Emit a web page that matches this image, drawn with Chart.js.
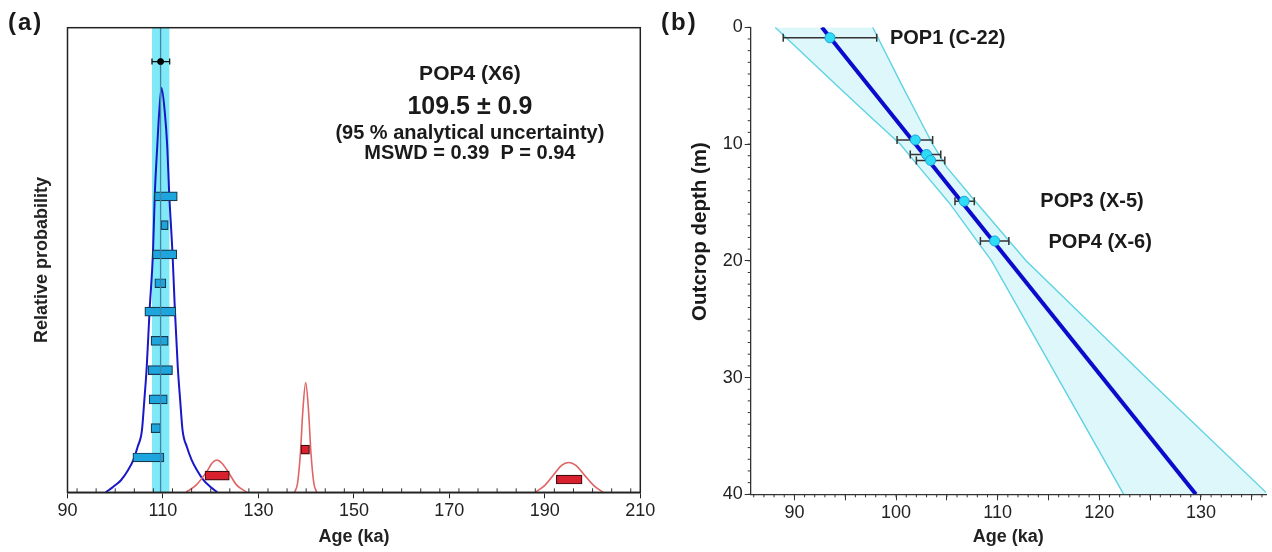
<!DOCTYPE html>
<html>
<head>
<meta charset="utf-8">
<script src="https://cdn.jsdelivr.net/npm/chart.js@4.4.1/dist/chart.umd.min.js"></script>
<style>
  body { margin: 0; background: #fff; }
  #wrap { position: relative; width: 1272px; height: 552px; overflow: hidden; }
  .panel { position: absolute; top: 0; height: 552px; }
  #pa { left: 0; width: 660px; }
  #pb { left: 660px; width: 612px; }
  .tag { position: absolute; font: bold 24px "Liberation Sans", Arial, sans-serif; letter-spacing: 2px; color: #1a1a1a; }
</style>
</head>
<body>
<div id="wrap">
  <div class="panel" id="pa"><canvas id="chartA"></canvas></div>
  <div class="panel" id="pb"><canvas id="chartB"></canvas></div>
  <div class="tag" style="left:8px;top:8px">(a)</div>
  <div class="tag" style="left:661px;top:8px">(b)</div>
</div>
<script>
// ---------- panel (a) ----------
const ageTicksA = [90, 110, 130, 150, 170, 190, 210];

// probability density of the accepted crystals
const pdfAge = [98.0, 99.6, 101.2, 102.7, 103.8, 104.7, 105.6, 106.1, 106.6, 107.2, 107.9, 108.3, 108.8, 109.2, 109.7, 110.4, 110.9, 111.3, 112.0, 112.5, 113.1, 113.6, 114.1, 115.0, 116.0, 117.1, 118.5, 119.9, 121.4];
const pdfProb = [0, 1.2, 2.6, 4.8, 7.0, 9.8, 13.4, 19.9, 27.0, 39.2, 51.4, 64.4, 74.4, 81.6, 87.0, 81.6, 74.4, 64.4, 51.4, 39.2, 27.0, 19.9, 13.4, 9.8, 7.0, 4.8, 2.6, 1.2, 0];

// rejected crystals
const rej1Age = [114.8, 117.0, 119.2, 120.3, 121.3, 122.3, 123.6, 125.4, 127.6];
const rej1Prob = [0, 1.6, 4.5, 6.3, 6.95, 6.3, 4.5, 1.6, 0];
const rej2Age = [137.6, 138.2, 138.8, 139.3, 139.9, 140.5, 141.0, 141.6, 142.2];
const rej2Prob = [0, 2.0, 8.5, 17.5, 23.6, 17.5, 8.5, 2.0, 0];
const rej3Age = [188.0, 190.0, 191.8, 193.5, 195.0, 196.5, 198.3, 200.2, 202.2];
const rej3Prob = [0, 1.5, 3.7, 5.8, 6.4, 5.8, 3.7, 1.5, 0];

// single crystal ages (bars) and the height they sit at
const xtalLo = [108.2, 109.6, 107.8, 108.3, 106.2, 107.5, 106.9, 107.1, 107.5, 103.7];
const xtalHi = [113.0, 111.1, 112.9, 110.6, 112.7, 111.1, 112.0, 110.9, 109.5, 110.2];
const xtalPos = [63.7, 57.5, 51.2, 45.0, 38.9, 32.6, 26.3, 20.0, 13.8, 7.5];
const rejLo = [118.8, 138.9, 192.4];
const rejHi = [123.9, 140.7, 197.8];
const rejPos = [3.6, 9.2, 2.75];

// weighted mean
const meanAge = 109.5;
const meanLo = 107.7;
const meanHi = 111.4;
const meanPos = 92.7;

// ---------- panel (b) ----------
const depthTicksB = [0, 10, 20, 30, 40];
const ageTicksB = [90, 95, 100, 105, 110, 115, 120, 125, 130, 135];
const sampleAge = [93.5, 101.9, 103.0, 103.4, 106.7, 109.7];
const sampleDepth = [0.9, 9.65, 10.9, 11.4, 14.9, 18.3];
const sampleLo = [88.9, 100.1, 101.4, 102.0, 105.8, 108.3];
const sampleHi = [98.1, 103.6, 104.4, 104.8, 107.7, 111.1];
const fitDepth = [0, 40];
const fitAge = [92.7, 129.5];
const bandDepth = [0, 5, 8, 10, 12, 15, 20, 30, 40];
const bandLo = [88.1, 94.2, 97.9, 100.4, 102.3, 105.2, 109.4, 115.9, 122.4];
const bandHi = [97.7, 100.6, 102.4, 103.6, 105.0, 107.9, 112.8, 124.6, 136.6];

const FONT = "'Liberation Sans', Arial, sans-serif";
Chart.defaults.font.family = FONT;
Chart.defaults.color = '#222';

// text placed in data units
const notesPlugin = {
  id: 'notes',
  afterDraw(chart, args, opts) {
    const {ctx, scales} = chart;
    ctx.save();
    ctx.fillStyle = '#1a1a1a';
    ctx.textBaseline = 'middle';
    (opts.items || []).forEach(n => {
      ctx.font = n.font;
      ctx.textAlign = n.align || 'center';
      ctx.fillText(n.text, scales.x.getPixelForValue(n.x), scales.y.getPixelForValue(n.y));
    });
    ctx.restore();
  }
};

// rotated axis title at a fixed spot
const sideTitlePlugin = {
  id: 'sideTitle',
  afterDraw(chart, args, opts) {
    if (!opts.text) return;
    const ctx = chart.ctx;
    ctx.save();
    ctx.translate(opts.x, opts.y);
    ctx.rotate(-Math.PI / 2);
    ctx.font = opts.font;
    ctx.fillStyle = '#1a1a1a';
    ctx.textAlign = 'center';
    ctx.textBaseline = 'middle';
    ctx.fillText(opts.text, 0, 0);
    ctx.restore();
  }
};

// small ticks between the labelled ones
const minorPlugin = {
  id: 'minor',
  afterDraw(chart, args, opts) {
    const ctx = chart.ctx;
    ctx.save();
    ctx.strokeStyle = '#333';
    ctx.lineWidth = 1;
    (opts.axes || []).forEach(a => {
      const s = chart.scales[a.id];
      const n0 = Math.ceil(s.min / a.step);
      const n1 = Math.floor(s.max / a.step);
      for (let i = n0; i <= n1; i++) {
        const p = s.getPixelForValue(i * a.step);
        ctx.beginPath();
        if (s.isHorizontal()) { ctx.moveTo(p, s.top); ctx.lineTo(p, s.top + a.len); }
        else { ctx.moveTo(s.right, p); ctx.lineTo(s.right - a.len, p); }
        ctx.stroke();
      }
    });
    ctx.restore();
  }
};

const framePlugin = {
  id: 'frame',
  afterDraw(chart) {
    const {ctx, chartArea: a} = chart;
    ctx.save();
    ctx.strokeStyle = '#222';
    ctx.lineWidth = 1.5;
    ctx.strokeRect(a.left, a.top, a.right - a.left, a.bottom - a.top);
    ctx.restore();
  }
};

const pts = (xs, ys) => xs.map((v, i) => ({x: v, y: ys[i]}));
const setTicks = (vals) => (scale) => { scale.ticks = vals.map(v => ({value: v})); };

// bars: accepted crystals in blue, rejected in red
const barData = xtalLo.map((lo, i) => ({x: [lo, xtalHi[i]], y: xtalPos[i]}))
  .concat(rejLo.map((lo, i) => ({x: [lo, rejHi[i]], y: rejPos[i]})));
const barFill = xtalLo.map(() => '#1ea5de').concat(rejLo.map(() => '#d8202e'));
const barEdge = xtalLo.map(() => '#173a4f').concat(rejLo.map(() => '#3b0f12'));

const redLine = (xs, ys) => ({
  data: pts(xs, ys), borderColor: '#e06464', borderWidth: 1.6, pointRadius: 0,
  cubicInterpolationMode: 'monotone'
});

new Chart(document.getElementById('chartA'), {
  type: 'line',
  data: {
    datasets: [
      {data: [{x: meanAge, y: meanPos}], showLine: false, pointRadius: 3, backgroundColor: '#000', borderColor: '#000'},
      {data: [{x: meanLo, y: meanPos}, {x: meanHi, y: meanPos}], borderColor: '#111', borderWidth: 1.3,
        pointStyle: 'line', rotation: 90, pointRadius: 3, pointBorderColor: '#111', pointBorderWidth: 1.3},
      {data: [{x: meanAge, y: 0}, {x: meanAge, y: 100}], borderColor: '#3f86a8', borderWidth: 1.3, pointRadius: 0},
      {type: 'bar', indexAxis: 'y', data: barData, backgroundColor: barFill, borderColor: barEdge,
        borderWidth: 1.2, borderSkipped: false, barThickness: 9},
      redLine(rej1Age, rej1Prob),
      redLine(rej2Age, rej2Prob),
      redLine(rej3Age, rej3Prob),
      {data: pts(pdfAge, pdfProb), borderColor: '#1818c8', borderWidth: 2, pointRadius: 0,
        cubicInterpolationMode: 'monotone'},
      {data: [{x: meanLo, y: 100}, {x: meanHi, y: 100}], fill: 'origin', backgroundColor: '#80e9f8',
        borderWidth: 0, pointRadius: 0}
    ]
  },
  options: {
    responsive: true,
    maintainAspectRatio: false,
    animation: false,
    events: [],
    layout: {padding: {top: 27.7, right: 19.7, bottom: 0, left: 0}},
    plugins: {
      legend: {display: false},
      tooltip: {enabled: false},
      filler: {drawTime: 'beforeDatasetsDraw'},
      notes: {items: [
        {text: 'POP4 (X6)', x: 174.3, y: 90.0, font: 'bold 21px ' + FONT},
        {text: '109.5 ± 0.9', x: 174.3, y: 82.9, font: 'bold 25px ' + FONT},
        {text: '(95 % analytical uncertainty)', x: 174.3, y: 77.2, font: 'bold 20px ' + FONT},
        {text: 'MSWD = 0.39  P = 0.94', x: 174.3, y: 72.9, font: 'bold 20px ' + FONT}
      ]},
      minor: {axes: [{id: 'x', step: 4, len: -4}]}
    },
    scales: {
      x: {
        type: 'linear', min: 90, max: 210,
        afterBuildTicks: setTicks(ageTicksA),
        afterFit: (s) => { s.height = 59.7; },
        grid: {drawOnChartArea: false, tickLength: 6, color: '#222'},
        border: {color: '#222', width: 1.5},
        ticks: {font: {size: 18}, padding: 2, maxRotation: 0, autoSkip: false},
        title: {display: true, text: 'Age (ka)', font: {size: 18, weight: 'bold'}, padding: {top: 0, bottom: 4.2}}
      },
      y: {
        type: 'linear', min: 0, max: 100, offset: false,
        afterFit: (s) => { s.width = 67.5; },
        grid: {display: false, offset: false},
        border: {display: false},
        ticks: {display: false},
        title: {display: true, text: 'Relative probability', font: {size: 18, weight: 'bold'}, padding: {top: 31.2, bottom: 0}}
      }
    }
  },
  plugins: [notesPlugin, minorPlugin, framePlugin]
});

// error bars, broken between samples
const errData = [];
sampleAge.forEach((a, i) => {
  errData.push({x: sampleLo[i], y: sampleDepth[i]}, {x: sampleHi[i], y: sampleDepth[i]}, {x: null, y: sampleDepth[i]});
});

new Chart(document.getElementById('chartB'), {
  type: 'line',
  data: {
    datasets: [
      {data: pts(sampleAge, sampleDepth), showLine: false, pointRadius: 5,
        backgroundColor: '#2fdcf8', borderColor: '#1aa4d6', borderWidth: 1},
      {data: errData, borderColor: '#333', borderWidth: 1.5, pointStyle: 'line', rotation: 90,
        pointRadius: 4, pointBorderColor: '#333', pointBorderWidth: 1.5},
      {data: pts(fitAge, fitDepth), borderColor: '#0b0bcc', borderWidth: 4, pointRadius: 0},
      {data: pts(bandLo, bandDepth), borderColor: '#5fd3e3', borderWidth: 1.4, pointRadius: 0,
        fill: '+1', backgroundColor: '#def7fb'},
      {data: pts(bandHi, bandDepth), borderColor: '#5fd3e3', borderWidth: 1.4, pointRadius: 0}
    ]
  },
  options: {
    indexAxis: 'y',
    responsive: true,
    maintainAspectRatio: false,
    animation: false,
    events: [],
    layout: {padding: {top: 27.3, right: 3.5, bottom: 0, left: 0}},
    plugins: {
      legend: {display: false},
      tooltip: {enabled: false},
      filler: {drawTime: 'beforeDatasetsDraw'},
      notes: {items: [
        {text: 'POP1 (C-22)', x: 99.4, y: 1.0, align: 'left', font: 'bold 20px ' + FONT},
        {text: 'POP3 (X-5)', x: 114.2, y: 14.9, align: 'left', font: 'bold 20px ' + FONT},
        {text: 'POP4 (X-6)', x: 115.0, y: 18.4, align: 'left', font: 'bold 20px ' + FONT}
      ]},
      sideTitle: {text: 'Outcrop depth (m)', x: 40, y: 231.5, font: 'bold 20.5px ' + FONT},
      minor: {axes: [{id: 'x', step: 1, len: 3}, {id: 'y', step: 1, len: 3}]}
    },
    scales: {
      x: {
        type: 'linear', min: 85.7, max: 136.4,
        afterBuildTicks: setTicks(ageTicksB),
        afterFit: (s) => { s.height = 57.7; },
        grid: {drawOnChartArea: false, tickLength: 6, color: '#333'},
        border: {color: '#333', width: 1.3},
        ticks: {font: {size: 18}, padding: 2, maxRotation: 0, autoSkip: false,
          callback: (v) => v % 10 === 0 ? v : ''},
        title: {display: true, text: 'Age (ka)', font: {size: 18, weight: 'bold'}, padding: {top: 0, bottom: 4.2}}
      },
      y: {
        type: 'linear', min: 0, max: 40, reverse: true,
        afterBuildTicks: setTicks(depthTicksB),
        afterFit: (s) => { s.width = 90.7; },
        grid: {drawOnChartArea: false, tickLength: 6, color: '#333'},
        border: {color: '#333', width: 1.3},
        ticks: {font: {size: 18}, padding: 2, autoSkip: false}
      }
    }
  },
  plugins: [notesPlugin, sideTitlePlugin, minorPlugin]
});
</script>
</body>
</html>
